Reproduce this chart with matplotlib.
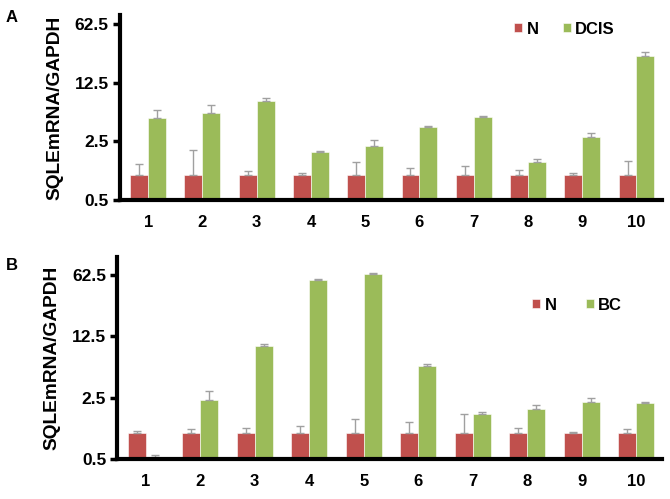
import matplotlib
matplotlib.use('Agg')
import matplotlib.pyplot as plt
import numpy as np

# data (relative SQLE mRNA / GAPDH)
samples = ['1', '2', '3', '4', '5', '6', '7', '8', '9', '10']
y_ticks = [0.5, 2.5, 12.5, 62.5]
y_tick_labels = ['0.5', '2.5', '12.5', '62.5']

a_n = [1.0, 1.0, 1.0, 1.0, 1.0, 1.0, 1.0, 1.0, 1.0, 1.0]
a_n_err = [0.33, 1.0, 0.1, 0.05, 0.41, 0.22, 0.27, 0.14, 0.05, 0.48]
a_dcis = [4.8, 5.5, 7.5, 1.87, 2.2, 3.67, 4.9, 1.42, 2.8, 26.3]
a_dcis_err = [1.05, 1.3, 0.7, 0.07, 0.37, 0.1, 0.1, 0.14, 0.35, 2.5]

b_n = [1.0, 1.0, 1.0, 1.0, 1.0, 1.0, 1.0, 1.0, 1.0, 1.0]
b_n_err = [0.05, 0.09, 0.12, 0.19, 0.43, 0.31, 0.62, 0.12, 0.03, 0.1]
b_bc = [0.53, 2.38, 9.6, 54.8, 64.2, 5.7, 1.65, 1.88, 2.26, 2.17]
b_bc_err = [0.02, 0.59, 0.7, 1.2, 2.3, 0.4, 0.06, 0.19, 0.19, 0.09]

RED = '#C0504D'
GREEN = '#9BBB59'

plt.rcParams['font.family'] = ['Liberation Sans', 'DejaVu Sans']
plt.rcParams['font.weight'] = 'bold'

fig = plt.figure(figsize=(6.7, 4.99), dpi=100)
ax_a = fig.add_axes([0.179, 0.599, 0.809, 0.371])
ax_b = fig.add_axes([0.175, 0.080, 0.813, 0.405])


def draw_panel(ax, n_vals, n_err, t_vals, t_err, t_name, ytop, legend_pos, colsp):
    x = np.arange(1, len(samples) + 1)
    w = 0.33
    base = 0.5
    ekw = dict(ecolor='#A0A0A0', elinewidth=1.0, capsize=3, capthick=1.0)
    ax.bar(x - w / 2, np.array(n_vals) - base, w, bottom=base, color=RED,
           edgecolor='white', linewidth=0.4, label='N',
           yerr=[np.zeros(len(n_err)), n_err], error_kw=ekw)
    ax.bar(x + w / 2, np.array(t_vals) - base, w, bottom=base, color=GREEN,
           edgecolor='white', linewidth=0.4, label=t_name,
           yerr=[np.zeros(len(t_err)), t_err], error_kw=ekw)
    ax.set_yscale('log')
    ax.set_ylim(0.5, ytop)
    ax.set_xlim(0.48, 10.47)
    ax.set_yticks(y_ticks)
    ax.set_yticklabels(y_tick_labels, fontsize=12.5, fontweight='bold')
    ax.minorticks_off()
    ax.set_xticks(x)
    ax.set_xticklabels(samples, fontsize=12, fontweight='bold')
    ax.tick_params(axis='x', length=0, pad=11)
    ax.tick_params(axis='y', length=5, width=2.5, direction='out', pad=3)
    for s in ['top', 'right']:
        ax.spines[s].set_visible(False)
    for s in ['left', 'bottom']:
        ax.spines[s].set_linewidth(3)
    ax.set_ylabel('SQLEmRNA/GAPDH', fontsize=13.8, fontweight='bold', labelpad=8)
    ax.legend(loc='center', bbox_to_anchor=legend_pos, ncol=2, frameon=False,
              handlelength=0.5, handleheight=0.5, handletextpad=0.25,
              columnspacing=colsp, borderpad=0.2,
              prop={'weight': 'bold', 'size': 12})


draw_panel(ax_a, a_n, a_n_err, a_dcis, a_dcis_err, 'DCIS', 80, (0.82, 0.924), 1.45)
draw_panel(ax_b, b_n, b_n_err, b_bc, b_bc_err, 'BC', 100, (0.844, 0.762), 1.75)

fig.text(0.009, 0.965, 'A', fontsize=12, fontweight='bold', va='center')
fig.text(0.009, 0.468, 'B', fontsize=12, fontweight='bold', va='center')

fig.savefig('out.png', dpi=100)
